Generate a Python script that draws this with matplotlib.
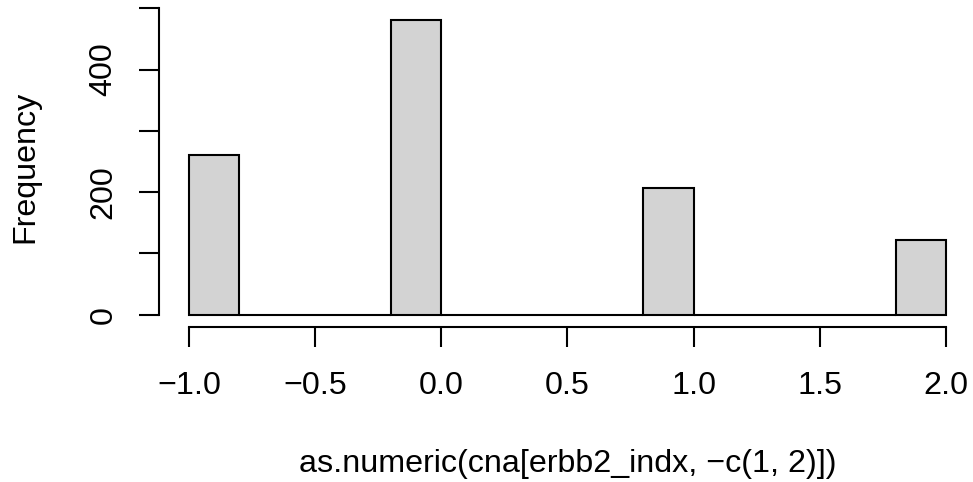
import matplotlib
matplotlib.use("Agg")
import matplotlib.pyplot as plt
import numpy as np

breaks = [-1.0, -0.8, -0.6, -0.4, -0.2, 0.0, 0.2, 0.4, 0.6, 0.8, 1.0, 1.2, 1.4, 1.6, 1.8, 2.0]
counts = [260, 0, 0, 0, 481, 0, 0, 0, 0, 206, 0, 0, 0, 0, 122]
xticks = [-1.0, -0.5, 0.0, 0.5, 1.0, 1.5, 2.0]
xticklabels = ["\u22121.0", "\u22120.5", "0.0", "0.5", "1.0", "1.5", "2.0"]
yticks = [0, 100, 200, 300, 400, 500]
yticklabels = ["0", "", "200", "", "400", ""]
xlabel = "as.numeric(cna[erbb2_indx, \u2212c(1, 2)])"
ylabel = "Frequency"

W, H, DPI = 973, 482, 100
FS = 23.2
plt.rcParams['font.family'] = ['Liberation Sans', 'DejaVu Sans']
fig = plt.figure(figsize=(W / DPI, H / DPI), dpi=DPI)

left_px, right_px, top_px, bottom_px = 158.7, 973.0, 8.2, 326.5
ax = fig.add_axes([left_px / W, 1 - bottom_px / H, (right_px - left_px) / W, (bottom_px - top_px) / H])

edges = np.array(breaks)
widths = np.diff(edges)
ax.bar(edges[:-1], counts, width=widths, align='edge', color='#D3D3D3',
       edgecolor='black', linewidth=1.5)

xpx = 252.33
ax.set_xlim(-1.12, -1.12 + (right_px - left_px) / xpx)
ax.set_ylim(-19.24, 500.24)

for s in ['top', 'right']:
    ax.spines[s].set_visible(False)
ax.spines['bottom'].set_bounds(-1.0, 2.0)
ax.spines['left'].set_bounds(0, 500)
ax.spines['bottom'].set_linewidth(1.5)
ax.spines['left'].set_linewidth(1.5)

ax.set_xticks(xticks)
ax.set_xticklabels(xticklabels)
ax.set_yticks(yticks)
ax.set_yticklabels(yticklabels, rotation=90, va='center')
ax.tick_params(axis='both', length=14.4, width=1.5, labelsize=FS, direction='out')
ax.tick_params(axis='x', pad=17.5)
ax.tick_params(axis='y', pad=14.5)

fig.text(25 / W, 1 - 167 / H, ylabel, rotation=90, ha='center', va='center', fontsize=FS)
fig.text(568 / W, 1 - 464 / H, xlabel, ha='center', va='center', fontsize=FS)

fig.savefig("out.png", dpi=DPI)
